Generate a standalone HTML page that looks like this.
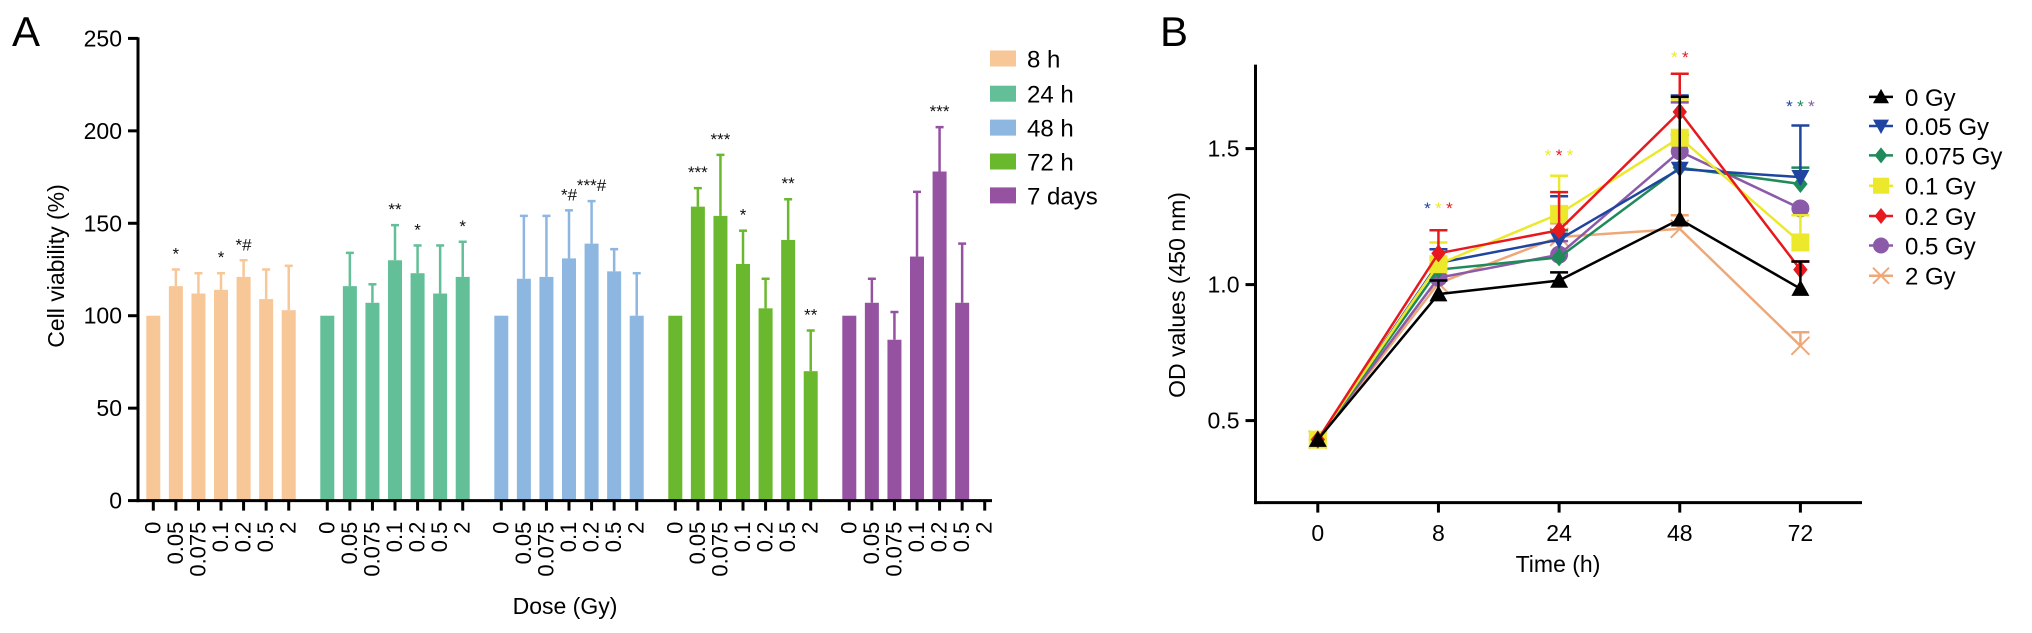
<!DOCTYPE html>
<html><head><meta charset="utf-8"><style>
html,body{margin:0;padding:0;background:#fff;}
svg{display:block;font-family:"Liberation Sans",Arial,sans-serif;}
</style></head><body>
<svg id="fig" width="2032" height="633" viewBox="0 0 2032 633" xmlns="http://www.w3.org/2000/svg"></svg>
<script>
// ---------- Panel A data ----------
const groupNames = ["8 h","24 h","48 h","72 h","7 days"];
const groupColors = ["#f7c797","#62bf97","#8db6e1","#6ab82e","#9452a1"];
const doseLabels = ["0","0.05","0.075","0.1","0.2","0.5","2"];
const val8h  = [100,116,112,114,121,109,103];
const err8h  = [0,9,11,9,9,16,24];
const val24h = [100,116,107,130,123,112,121];
const err24h = [0,18,10,19,15,26,19];
const val48h = [100,120,121,131,139,124,100];
const err48h = [0,34,33,26,23,12,23];
const val72h = [100,159,154,128,104,141,70];
const err72h = [0,10,33,18,16,22,22];
const val7d  = [100,107,87,132,178,107,null];
const err7d  = [0,13,15,35,24,32,0];
const annot8h  = ["","*","","*","*#","",""];
const annot24h = ["","","","**","*","","*"];
const annot48h = ["","","","*#","***#","",""];
const annot72h = ["","***","***","*","","**","**"];
const annot7d  = ["","","","","***","",""];
const yTicksA = [0,50,100,150,200,250];

// ---------- Panel B data ----------
const timeLabels = ["0","8","24","48","72"];
const seriesNames = ["0 Gy","0.05 Gy","0.075 Gy","0.1 Gy","0.2 Gy","0.5 Gy","2 Gy"];
const seriesColors = ["#000000","#1f45a0","#1f8a5a","#ece92c","#e8191e","#8b5aa8","#eea878"];
const seriesMarkers = ["tri","tridown","diamond","square","diamond","circle","x"];
const s0Gy   = [0.43,0.965,1.015,1.24,0.985];
const s005Gy = [0.43,1.08,1.165,1.425,1.395];
const s0075Gy= [0.43,1.055,1.10,1.43,1.37];
const s01Gy  = [0.43,1.075,1.26,1.54,1.155];
const s02Gy  = [0.43,1.115,1.20,1.635,1.055];
const s05Gy  = [0.43,1.025,1.11,1.49,1.28];
const s2Gy   = [0.43,1.005,1.175,1.205,0.775];
const e0Gy   = [0,0.05,0.03,0.45,0.1];
const e005Gy = [0,0.05,0.16,0.27,0.19];
const e0075Gy= [0,0.04,0.1,0.12,0.06];
const e01Gy  = [0,0.08,0.14,0.14,0.1];
const e02Gy  = [0,0.085,0.14,0.14,0.03];
const e05Gy  = [0,0.05,0.05,0.18,0.0];
const e2Gy   = [0,0.05,0.05,0.05,0.05];
const yTicksB = [0.5,1.0,1.5];

const NS="http://www.w3.org/2000/svg";
const svg=document.getElementById('fig');
function el(tag,attrs,parent){const e=document.createElementNS(NS,tag);for(const k in attrs)e.setAttribute(k,attrs[k]);(parent||svg).appendChild(e);return e;}
function txt(s,attrs,parent){const e=el('text',attrs,parent);e.textContent=s;return e;}

// ---------- Panel A ----------
const gA=el('g',{});


const axL=138, y0=500.6, y250=38.4;
const yA=v=>y0-(v/250)*(y0-y250);
const groupStart=153.3, groupPitch=174, barPitch=22.57, barW=14;
const xA=(g,i)=>groupStart+g*groupPitch+i*barPitch;
const vals=[val8h,val24h,val48h,val72h,val7d], errs=[err8h,err24h,err48h,err72h,err7d];
const annots=[annot8h,annot24h,annot48h,annot72h,annot7d];
for(let g=0;g<5;g++){
  for(let i=0;i<7;i++){
    const v=vals[g][i]; const x=xA(g,i);
    if(v!==null){
      if(errs[g][i]>0){
        const ln=el('line',{x1:x,x2:x,y1:yA(v),y2:yA(v+errs[g][i]),stroke:groupColors[g],'stroke-width':2.5},gA);
        
        const cp=el('line',{x1:x-4,x2:x+4,y1:yA(v+errs[g][i]),y2:yA(v+errs[g][i]),stroke:groupColors[g],'stroke-width':2.5},gA);
        
      }
      const r=el('rect',{x:x-barW/2,y:yA(v),width:barW,height:yA(0)-yA(v),fill:groupColors[g]},gA);
      
      
      if(annots[g][i]){
        const top=v+errs[g][i];
        const t=txt(annots[g][i],{x:x,y:yA(top)-10,'text-anchor':'middle','font-size':17,fill:'#111'},gA);
        
      }
    }
  }
  for(let i=0;i<7;i++){
    const x=xA(g,i);
    const tk=el('line',{x1:x,x2:x,y1:y0,y2:y0+10,stroke:'#000','stroke-width':3},gA);
    
    const t=txt(doseLabels[i],{x:0,y:0,'text-anchor':'end','font-size':22,fill:'#000',transform:`translate(${x+7},${y0+21}) rotate(-90)`},gA);
    
  }
}
const axY=el('line',{x1:axL,x2:axL,y1:y250-1,y2:y0+1.5,stroke:'#000','stroke-width':3},gA);

const axX=el('line',{x1:axL-1.5,x2:992,y1:y0,y2:y0,stroke:'#000','stroke-width':3},gA);

yTicksA.forEach(v=>{
  const tk=el('line',{x1:axL-10,x2:axL,y1:yA(v),y2:yA(v),stroke:'#000','stroke-width':3},gA);
  
  const t=txt(String(v),{x:axL-16,y:yA(v)+8,'text-anchor':'end','font-size':23,fill:'#000'},gA);
  
});
let t=txt('Cell viability (%)',{x:0,y:0,'text-anchor':'middle','font-size':23,fill:'#000',transform:'translate(64,266) rotate(-90)'},gA);

t=txt('Dose (Gy)',{x:565,y:614,'text-anchor':'middle','font-size':23,fill:'#000'},gA);

t=txt('A',{x:12,y:46,'font-size':42,fill:'#000'},gA);

const legYA=[58.5,93.7,127.6,161.5,195.4];
groupNames.forEach((n,i)=>{
  const r=el('rect',{x:990,y:legYA[i]-8,width:26,height:16,fill:groupColors[i]},gA);
  
  const tt=txt(n,{x:1027,y:legYA[i]+9,'font-size':24,fill:'#000'},gA);
  
});

// ---------- Panel B ----------
const gB=el('g',{});


const axLB=1255.5, yBot=502.6, yTop=64.6;
const yB=v=>284.6-(v-1)*272;
const xB=i=>1317.8+i*120.65;
const series=[s0Gy,s005Gy,s0075Gy,s01Gy,s02Gy,s05Gy,s2Gy];
const serr=[e0Gy,e005Gy,e0075Gy,e01Gy,e02Gy,e05Gy,e2Gy];
function marker(type,x,y,c,parent,s){
  s=s||9;let m;
  if(type==='tri')m=el('polygon',{points:`${x},${y-s} ${x-s},${y+s*0.8} ${x+s},${y+s*0.8}`,fill:c},parent);
  else if(type==='tridown')m=el('polygon',{points:`${x},${y+s} ${x-s},${y-s*0.8} ${x+s},${y-s*0.8}`,fill:c},parent);
  else if(type==='diamond')m=el('polygon',{points:`${x},${y-s} ${x+s*0.8},${y} ${x},${y+s} ${x-s*0.8},${y}`,fill:c},parent);
  else if(type==='square')m=el('rect',{x:x-s,y:y-s,width:2*s,height:2*s,fill:c},parent);
  else if(type==='circle')m=el('circle',{cx:x,cy:y,r:s,fill:c},parent);
  else {m=el('path',{d:`M${x-s},${y-s}L${x+s},${y+s}M${x-s},${y+s}L${x+s},${y-s}`,stroke:c,'stroke-width':2,fill:'none'},parent);}
  return m;
}
const drawOrder=[6,5,2,1,3,4,0];
drawOrder.forEach(k=>{
  const c=seriesColors[k];
  series[k].forEach((v,i)=>{
    if(serr[k][i]>0){
      const x=xB(i);
      const ln=el('line',{x1:x,x2:x,y1:yB(v),y2:yB(v+serr[k][i]),stroke:c,'stroke-width':2.5},gB);
      
      const cp=el('line',{x1:x-9,x2:x+9,y1:yB(v+serr[k][i]),y2:yB(v+serr[k][i]),stroke:c,'stroke-width':2.5},gB);
      
    }
  });
  const pts=series[k].map((v,i)=>xB(i)+','+yB(v)).join(' ');
  const pl=el('polyline',{points:pts,fill:'none',stroke:c,'stroke-width':2.5},gB);
  
  
  series[k].forEach((v,i)=>{
    const m=marker(seriesMarkers[k],xB(i),yB(v),c,gB);
    
    
  });
});
const starGroups=[[1,206,[1,3,4]],[2,153,[3,4,3]],[3,55,[3,4]],[4,104,[1,2,5]]];
starGroups.forEach(([i,y,cs])=>{
  cs.forEach((ci,j)=>{
    const x=xB(i)+(j-(cs.length-1)/2)*11;
    const st=txt('*',{x:x,y:y+8,'text-anchor':'middle','font-size':17,fill:seriesColors[ci]},gB);
    
  });
});
const bAy=el('line',{x1:axLB,x2:axLB,y1:yTop,y2:yBot+1.5,stroke:'#000','stroke-width':3},gB);

const bAx=el('line',{x1:axLB-1.5,x2:1862,y1:yBot,y2:yBot,stroke:'#000','stroke-width':3},gB);

yTicksB.forEach(v=>{
  const tk=el('line',{x1:axLB-10,x2:axLB,y1:yB(v),y2:yB(v),stroke:'#000','stroke-width':3},gB);
  
  const tt=txt(v.toFixed(1),{x:axLB-16,y:yB(v)+8,'text-anchor':'end','font-size':23,fill:'#000'},gB);
  
});
timeLabels.forEach((l,i)=>{
  const tk=el('line',{x1:xB(i),x2:xB(i),y1:yBot,y2:yBot+10,stroke:'#000','stroke-width':3},gB);
  
  const tt=txt(l,{x:xB(i),y:541,'text-anchor':'middle','font-size':23,fill:'#000'},gB);
  
});
t=txt('Time (h)',{x:1558,y:572,'text-anchor':'middle','font-size':23,fill:'#000'},gB);

t=txt('OD values (450 nm)',{x:0,y:0,'text-anchor':'middle','font-size':23,fill:'#000',transform:'translate(1185,295) rotate(-90)'},gB);

t=txt('B',{x:1160,y:46,'font-size':42,fill:'#000'},gB);

const legYB=[96.9,126,155.4,185.7,216,245.5,275.7];
seriesNames.forEach((n,k)=>{
  const ln=el('line',{x1:1869,x2:1893,y1:legYB[k],y2:legYB[k],stroke:seriesColors[k],'stroke-width':2.5},gB);
  
  const m=marker(seriesMarkers[k],1881,legYB[k],seriesColors[k],gB,8);
  
  const tt=txt(n,{x:1905,y:legYB[k]+9,'font-size':24,fill:'#000'},gB);
  
});
</script>
</body></html>
